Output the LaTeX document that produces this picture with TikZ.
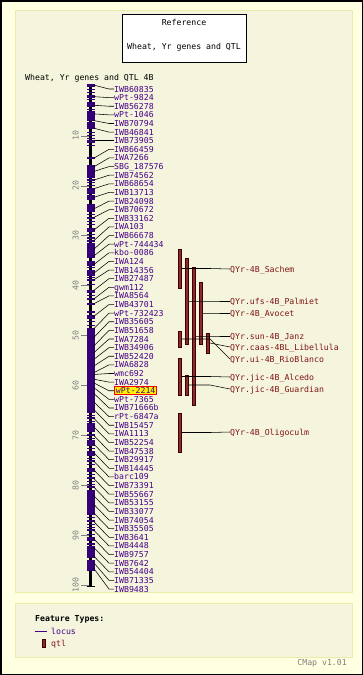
\documentclass[tikz,border=0pt]{standalone}
\usepackage{fontspec}
\newfontfamily\pix{DejaVu Sans Mono}
\definecolor{outerbg}{RGB}{255,255,225}
\definecolor{innerbg}{RGB}{245,245,222}
\definecolor{panelline}{RGB}{236,236,170}
\definecolor{mk}{RGB}{51,0,119}
\definecolor{lblc}{RGB}{68,0,136}
\definecolor{qfill}{RGB}{139,44,44}
\definecolor{qline}{RGB}{64,0,0}
\definecolor{qtext}{RGB}{128,20,20}
\definecolor{axgrey}{RGB}{128,128,128}
\begin{document}
\begin{tikzpicture}[x=1pt,y=-1pt,
  every node/.style={font=\pix\fontsize{8.2}{9}\selectfont,inner sep=0pt,text height=6pt,text depth=0pt},
  lbl/.style={anchor=west,text=lblc},
  hllbl/.style={anchor=west,text=lblc,fill=yellow,draw=red,line width=0.8pt,inner xsep=1.5pt,inner ysep=1pt},
  qlbl/.style={anchor=west,text=qtext},
  lead/.style={draw=black,line width=0.55pt},
  qbar/.style={draw=qline,fill=qfill,line width=0.6pt,minimum width=3.4pt,inner sep=0pt,text height=0pt},
  axlbl/.style={rotate=90,text=axgrey}]
\useasboundingbox (0,0) rectangle (363,675);
\fill[outerbg] (0,0) rectangle (363,675);
\draw[black,line width=1.5pt] (0.75,0.75) rectangle (362.25,674.25);
\draw[panelline,fill=innerbg,line width=0.8pt] (15,10) rectangle (352,592);
\draw[panelline,fill=innerbg,line width=0.8pt] (15,603) rectangle (352,657);
% title box
\node[draw=black,fill=white,line width=0.8pt,minimum width=124pt,minimum height=48pt,text height=0pt] (tbox) at (184,38) {};
\node (t1) at (184,22) {Reference};
\node (t2) at (184,46) {Wheat, Yr genes and QTL};
\node[anchor=west] (maptitle) at (25,77) {Wheat, Yr genes and QTL 4B};
% axis ticks
\foreach \v in {10,20,...,100} {
  \pgfmathsetmacro\ty{86+4.99*\v}
  \coordinate (tk\v) at (81,\ty);
  \draw[axgrey,line width=0.6pt] (tk\v) -- ++(8.5,0);
  \node[axlbl] (al\v) at (75.5,\ty) {\v};
}
% chromosome
\coordinate (ctop) at (90.7,86);
\coordinate (cbot) at (90.7,586);
\draw[black,line width=2.7pt] (ctop) -- (cbot);
\draw[black,line width=1pt] (86.7,586) -- (94.7,586);
% ladder ticks
\foreach \a/\n in {86/18,166/10,205/24,292/2,312/5,412/48} {
  \foreach \k in {0,...,\n} {
    \pgfmathsetmacro\t{\a+3.3*\k}
    \fill[mk] (86.7,\t-0.55) rectangle (94.7,\t+0.55);
  }
}
% solid blocks
\foreach \a/\b in {103/107,111/118,123/127,165/178,188/194,205/212,243/254,262/266,271/276,330/412,423/432,440/444,452/456,468/472,490/510,537/540,548/555,563/571} {
  \fill[mk] (86.7,\a) rectangle (94.7,\b);
}
% loci
\foreach \i/\name/\off/\st in {
 1/IWB60835/-4/lbl, 2/wPt-9824/-1/lbl, 3/IWB56278/-1/lbl, 4/wPt-1046/-1/lbl,
 5/IWB70794/-3/lbl, 6/IWB46841/-4/lbl, 7/IWB73905/0/lbl, 8/IWB66459/9/lbl,
 9/IWA7266/9/lbl, 10/SBG\_187576/5/lbl, 11/IWB74562/5/lbl, 12/IWB68654/5/lbl,
 13/IWB13713/5/lbl, 14/IWB24098/8/lbl, 15/IWB70672/8/lbl, 16/IWB33162/12/lbl,
 17/IWA103/14/lbl, 18/IWB66678/14/lbl, 19/wPt-744434/12/lbl, 20/kbo-0086/12/lbl,
 21/IWA124/12/lbl, 22/IWB14356/10/lbl, 23/IWB27487/12/lbl, 24/gwm112/12/lbl,
 25/IWA8564/8/lbl, 26/IWB43701/12/lbl, 27/wPt-732423/16/lbl, 28/IWB35605/16/lbl,
 29/IWB51658/16/lbl, 30/IWA7284/14/lbl, 31/IWB34906/12/lbl, 32/IWB52420/10/lbl,
 33/IWA6828/8/lbl, 34/wmc692/1/lbl, 35/IWA2974/-3/lbl, 36/wPt-2214/-8/hllbl,
 37/wPt-7365/-12/lbl, 38/IWB71666b/-15/lbl, 39/rPt-6847a/-15/lbl, 40/IWB15457/-16/lbl,
 41/IWA1113/-16/lbl, 42/IWB52254/-16/lbl, 43/IWB47538/-16/lbl, 44/IWB29917/-16/lbl,
 45/IWB14445/-16/lbl, 46/barc109/-16/lbl, 47/IWB73391/-16/lbl, 48/IWB55667/-16/lbl,
 49/IWB53155/-16/lbl, 50/IWB33077/-16/lbl, 51/IWB74054/-16/lbl, 52/IWB35505/-16/lbl,
 53/IWB3641/-16/lbl, 54/IWB4448/-16/lbl, 55/IWB9757/-16/lbl, 56/IWB7642/-16/lbl,
 57/IWB54404/-16/lbl, 58/IWB71335/-18/lbl, 59/IWB9483/-21/lbl} {
  \pgfmathsetmacro\ly{89+(\i-1)*8.621}
  \pgfmathsetmacro\my{\ly+\off}
  \fill[mk] (86.7,\my-1) rectangle (94.7,\my+1);
  \coordinate (c\i) at (93.5,\my);
  \coordinate (k\i) at (109,\ly);
  \node[\st] (m\i) at (114,\ly) {\name};
  \draw[lead] (c\i) -- (k\i) -- (m\i.west);
}
% QTL bars
\node[qbar,minimum height=39pt] (qa) at (180,268.5) {};
\node[qbar,minimum height=86pt] (qb) at (186.7,301) {};
\node[qbar,minimum height=138pt] (qc) at (193.7,336) {};
\node[qbar,minimum height=62pt] (qd) at (201,313) {};
\node[qbar,minimum height=20pt] (qe) at (207.7,343) {};
\node[qbar,minimum height=16pt] (qf) at (180,339) {};
\node[qbar,minimum height=37pt] (qg) at (180,376.5) {};
\node[qbar,minimum height=20pt] (qh) at (186.7,385) {};
\node[qbar,minimum height=39pt] (qi) at (180,432.5) {};
% QTL labels
\node[qlbl] (la) at (230,269) {QYr-4B\_Sachem};
\node[qlbl] (lb) at (230,301) {QYr.ufs-4B\_Palmiet};
\node[qlbl] (ld) at (230,313) {QYr-4B\_Avocet};
\node[qlbl] (lc) at (230,336) {QYr.sun-4B\_Janz};
\node[qlbl] (le) at (230,347) {QYr.caas-4BL\_Libellula};
\node[qlbl] (lf) at (230,359) {QYr.ui-4B\_RioBlanco};
\node[qlbl] (lg) at (230,377) {QYr.jic-4B\_Alcedo};
\node[qlbl] (lh) at (230,389) {QYr.jic-4B\_Guardian};
\node[qlbl] (li) at (230,432) {QYr-4B\_Oligoculm};
\foreach \q in {a,b,c,d,e,f,g,h,i} {
  \draw[lead] (q\q.east) -- (q\q.east -| 210,0) -- (l\q.west);
}
% legend
\node[anchor=west,font=\pix\bfseries\fontsize{8.2}{9}\selectfont] (ft) at (35,618) {Feature Types:};
\coordinate (lg1) at (35,631);
\coordinate (lg2) at (47,631);
\draw[lblc,line width=0.8pt] (lg1) -- (lg2);
\node[anchor=west,text=lblc] (locus) at (51,631) {locus};
\node[qbar,minimum height=8pt] (legq) at (44,643) {};
\node[anchor=west,text=qtext] (qtl) at (51,643) {qtl};
\node[anchor=east,text=axgrey] (cmap) at (347,662) {CMap v1.01};
\end{tikzpicture}
\end{document}
